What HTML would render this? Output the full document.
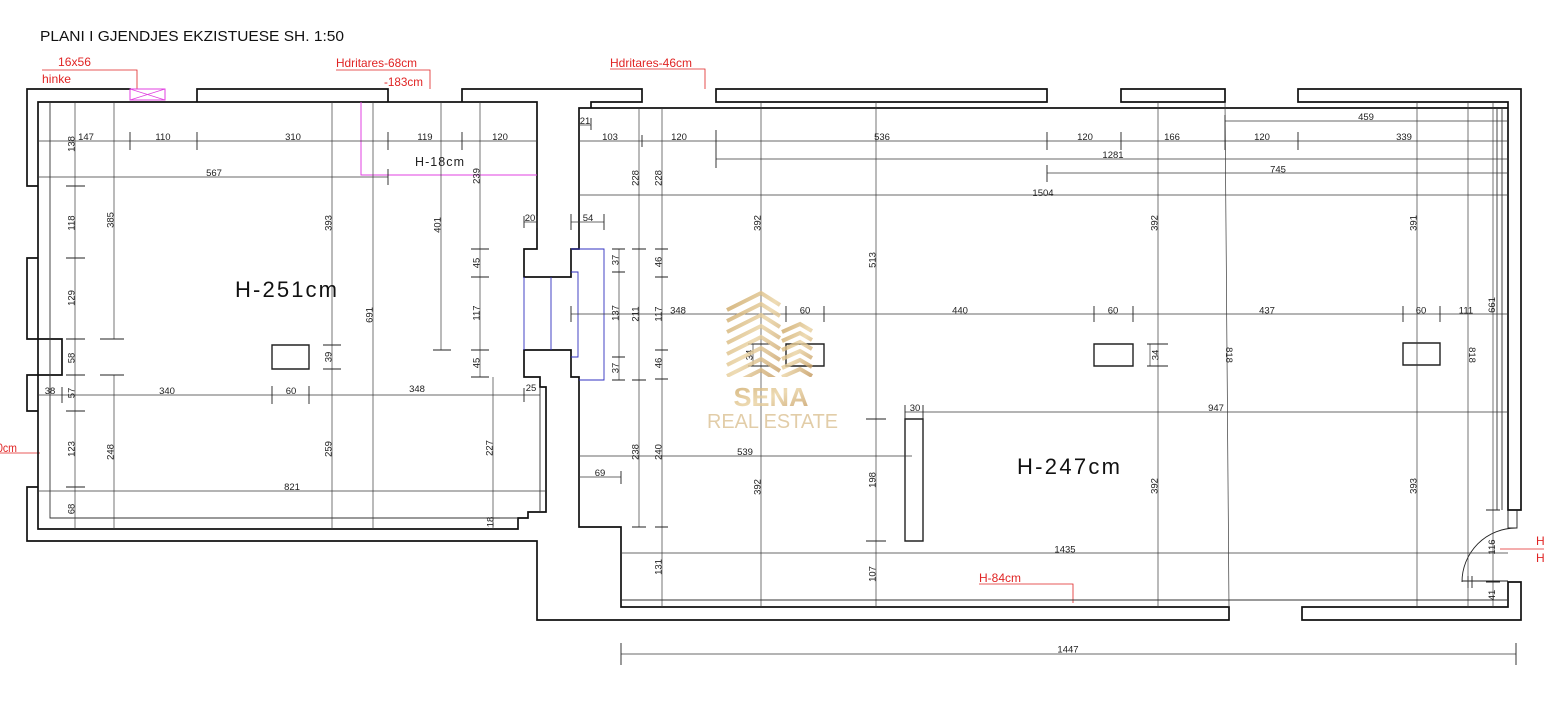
<!DOCTYPE html>
<html><head><meta charset="utf-8"><style>
html,body{margin:0;padding:0;background:#fff;}
svg{display:block}
.w{stroke:#111;stroke-width:1.7;fill:none;stroke-linecap:square}
.f{stroke:#333;stroke-width:0.9;fill:none}
.d{stroke:#3a3a3a;stroke-width:0.7;fill:none}
.k{stroke:#222;stroke-width:0.9;fill:none}
text{font-family:"Liberation Sans",Arial,sans-serif}
.t{font-size:9.5px;fill:#222;text-anchor:middle}
.r{font-size:12px;fill:#e02424}
</style></head><body>
<svg width="1544" height="720" viewBox="0 0 1544 720" xmlns="http://www.w3.org/2000/svg">
<defs>
<linearGradient id="g" x1="0" y1="0" x2="1" y2="1">
<stop offset="0" stop-color="#c9a15c"/><stop offset="0.5" stop-color="#ead3a2"/><stop offset="1" stop-color="#c2965a"/>
</linearGradient>
<clipPath id="cl"><rect x="720" y="288" width="100" height="89"/></clipPath>
</defs>
<rect width="1544" height="720" fill="#fff"/>

<text x="40" y="41" font-size="14.5" fill="#111" textLength="304" lengthAdjust="spacingAndGlyphs">PLANI I GJENDJES EKZISTUESE SH. 1:50</text>

<!-- red annotations -->
<g stroke="#e02424" stroke-width="0.8" fill="none">
<path d="M42,70 H137 V89"/><path d="M336,70 H430 V89"/><path d="M610,69 H705 V89"/>
<path d="M979,584 H1073 V603"/><path d="M0,453 H40"/><path d="M1500,549 H1544"/>
</g>
<text class="r" x="58" y="66" textLength="33" lengthAdjust="spacingAndGlyphs">16x56</text>
<text class="r" x="42" y="83" textLength="29" lengthAdjust="spacingAndGlyphs">hinke</text>
<text class="r" x="336" y="67" textLength="81" lengthAdjust="spacingAndGlyphs">Hdritares-68cm</text>
<text class="r" x="384" y="86" textLength="39" lengthAdjust="spacingAndGlyphs">-183cm</text>
<text class="r" x="610" y="67" textLength="82" lengthAdjust="spacingAndGlyphs">Hdritares-46cm</text>
<text class="r" x="979" y="582" textLength="42" lengthAdjust="spacingAndGlyphs">H-84cm</text>
<text class="r" x="-3" y="452" textLength="20" lengthAdjust="spacingAndGlyphs">0cm</text>
<text class="r" x="1536" y="545">H</text>
<text class="r" x="1536" y="562">H</text>

<!-- walls -->
<path class="w" d="
M27,89 H130
M197,102 V89 H388 V102
M462,102 V89 H642 V102
M716,102 V89 H1047 V102
M1121,102 V89 H1225 V102
M1298,102 V89 H1521 V510 H1508
M38,102 H537 V249 H524 V277 H571 V249 H579 V108 H591 V102 H642
M716,102 H1047 M1121,102 H1225 M1298,102 H1508 V510
M579,108 H1508
M27,89 V186 H38
M38,258 H27 V339
M27,339 H62 V375 H27 V411 H38
M38,487 H27 V541 H537 V620 H1229 V607
M1302,607 V620 H1521 V582 H1508 V607
M621,607 H1229 M1302,607 H1508
M38,102 V529 H518 V518 H528 V512 H546 V387 H540 V377 H524 V350 H571 V377 H579 V527 H621 V607
"/>
<path class="f" d="M50,102 V518 H518 M540,387 V512 M1497,108 V510 M1502,108 V510 M621,600 H1508"/>
<!-- door -->
<path class="k" d="M1508,510 V528 H1517 V510 M1516,528 A54,54 0 0 0 1462,582 M1462,581 H1508 M1468,576 V588 M1472,576 V588"/>
<!-- magenta -->
<rect x="130" y="89" width="35" height="11" stroke="#e040e0" fill="none" stroke-width="1"/>
<path d="M130,89 L165,100 M130,100 L165,89" stroke="#e040e0" stroke-width="0.8"/>
<path d="M361,102 V175 H537" stroke="#e040e0" stroke-width="1" fill="none"/>
<!-- blue stair -->
<path d="M524,277 V350 M551,277 V350 M571,249 H604 V380 H579 M571,272 H578 V357 H571" stroke="#3030c0" stroke-width="0.9" fill="none"/>
<!-- rects -->
<path stroke="#222" stroke-width="1.4" fill="none" d="M272,345 h37 v24 h-37 z M786,344 h38 v22 h-38 z M1094,344 h39 v22 h-39 z M1403,343 h37 v22 h-37 z M905,419 h18 v122 h-18 z"/>

<!-- dimension lines -->
<path class="d" d="
M38,141 H537 M38,177 H388 M38,395 H540 M38,491 H546
M75,102 V529 M114,102 V339 M114,375 V529 M332,102 V529 M373,102 V529
M441,102 V350 M480,102 V377 M493,377 V529 M524,222 H537
M579,125 H591 M1225,121 H1508 M579,141 H1508 M716,159 H1508 M1047,173 H1508 M579,195 H1508
M571,222 H604 M571,314 H1508 M905,412 H1508 M579,456 H912 M579,477 H621 M621,553 H1508 M621,654 H1516
M619,249 V380 M639,108 V527 M662,108 V607 M761,102 V607 M876,102 V607 M1158,102 V607
M1225,102 L1229,607 M1417,102 V607 M1468,102 V607 M1493,102 V607
M753,344 V366 M1150,344 V366
"/>
<!-- ticks -->
<path class="k" d="
M130,132 V150 M197,132 V150 M388,132 V150 M462,132 V150 M388,169 V185
M62,387 V403 M272,386 V404 M309,386 V404 M524,388 V402
M524,216 V228 M537,216 V228 M571,214 V230 M604,214 V230 M591,118 V130
M642,135 V147 M716,130 V168 M1047,132 V150 M1121,132 V150 M1225,115 V150 M1298,132 V150 M1047,165 V182
M571,306 V322 M786,306 V322 M824,306 V322 M1094,306 V322 M1133,306 V322 M1403,306 V322 M1440,306 V322
M905,405 V419 M923,405 V419 M621,471 V484 M621,643 V665 M1516,643 V665
M66,186 H85 M66,258 H85 M66,339 H85 M66,375 H85 M66,411 H85 M66,487 H85
M100,339 H124 M100,375 H124 M323,345 H341 M323,369 H341 M433,350 H451
M471,249 H489 M471,277 H489 M471,350 H489 M471,377 H489 M486,518 H500
M612,249 H625 M612,272 H625 M612,357 H625 M612,380 H625
M632,249 H646 M632,380 H646 M632,527 H646
M655,249 H668 M655,277 H668 M655,350 H668 M655,379 H668 M655,527 H668
M748,344 H770 M748,366 H770 M866,419 H886 M866,541 H886 M1147,344 H1168 M1147,366 H1168
M1486,510 H1500 M1486,582 H1500
"/>

<!-- horizontal labels -->
<g class="t">
<text x="86" y="140">147</text><text x="163" y="140">110</text><text x="293" y="140">310</text><text x="425" y="140">119</text><text x="500" y="140">120</text>
<text x="214" y="176">567</text>
<text x="50" y="394">38</text><text x="167" y="394">340</text><text x="291" y="394">60</text><text x="417" y="392">348</text><text x="531" y="391">25</text>
<text x="292" y="490">821</text><text x="530" y="221">20</text>
<text x="585" y="124">21</text>
<text x="610" y="140">103</text><text x="679" y="140">120</text><text x="882" y="140">536</text><text x="1085" y="140">120</text><text x="1172" y="140">166</text><text x="1262" y="140">120</text><text x="1404" y="140">339</text>
<text x="1366" y="120">459</text><text x="1113" y="158">1281</text><text x="1278" y="172.5">745</text><text x="1043" y="196">1504</text>
<text x="588" y="221">54</text>
<text x="678" y="313.5">348</text><text x="805" y="313.5">60</text><text x="960" y="313.5">440</text><text x="1113" y="313.5">60</text><text x="1267" y="313.5">437</text><text x="1421" y="313.5">60</text><text x="1466" y="313.5">111</text>
<text x="915" y="411">30</text><text x="1216" y="411">947</text>
<text x="745" y="455">539</text><text x="600" y="476">69</text>
<text x="1065" y="552.5">1435</text><text x="1068" y="652.5">1447</text>
</g>
<!-- vertical labels -->
<g class="t">
<text transform="translate(74.5,144) rotate(-90)">138</text>
<text transform="translate(74.5,223) rotate(-90)">118</text>
<text transform="translate(74.5,298) rotate(-90)">129</text>
<text transform="translate(74.5,358) rotate(-90)">58</text>
<text transform="translate(74.5,393) rotate(-90)">57</text>
<text transform="translate(74.5,449) rotate(-90)">123</text>
<text transform="translate(74.5,509) rotate(-90)">68</text>
<text transform="translate(113.5,220) rotate(-90)">385</text>
<text transform="translate(113.5,452) rotate(-90)">248</text>
<text transform="translate(331.5,223) rotate(-90)">393</text>
<text transform="translate(331.5,357) rotate(-90)">39</text>
<text transform="translate(331.5,449) rotate(-90)">259</text>
<text transform="translate(372.5,315) rotate(-90)">691</text>
<text transform="translate(440.5,225) rotate(-90)">401</text>
<text transform="translate(479.5,176) rotate(-90)">239</text>
<text transform="translate(479.5,263) rotate(-90)">45</text>
<text transform="translate(479.5,313) rotate(-90)">117</text>
<text transform="translate(479.5,363) rotate(-90)">45</text>
<text transform="translate(492.5,448) rotate(-90)">227</text>
<text transform="translate(493.5,522) rotate(-90)">18</text>
<text transform="translate(618.5,260) rotate(-90)">37</text>
<text transform="translate(618.5,313) rotate(-90)">137</text>
<text transform="translate(618.5,368) rotate(-90)">37</text>
<text transform="translate(638.5,178) rotate(-90)">228</text>
<text transform="translate(638.5,314) rotate(-90)">211</text>
<text transform="translate(638.5,452) rotate(-90)">238</text>
<text transform="translate(661.5,178) rotate(-90)">228</text>
<text transform="translate(661.5,262) rotate(-90)">46</text>
<text transform="translate(661.5,314) rotate(-90)">117</text>
<text transform="translate(661.5,363) rotate(-90)">46</text>
<text transform="translate(661.5,452) rotate(-90)">240</text>
<text transform="translate(661.5,567) rotate(-90)">131</text>
<text transform="translate(760.5,223) rotate(-90)">392</text>
<text transform="translate(752.5,355) rotate(-90)">34</text>
<text transform="translate(760.5,487) rotate(-90)">392</text>
<text transform="translate(875.5,260) rotate(-90)">513</text>
<text transform="translate(875.5,480) rotate(-90)">198</text>
<text transform="translate(875.5,574) rotate(-90)">107</text>
<text transform="translate(1157.5,223) rotate(-90)">392</text>
<text transform="translate(1158.5,355) rotate(-90)">34</text>
<text transform="translate(1157.5,486) rotate(-90)">392</text>
<text transform="translate(1416.5,223) rotate(-90)">391</text>
<text transform="translate(1416.5,486) rotate(-90)">393</text>
<text transform="translate(1495,305) rotate(-90)">661</text>
<text transform="translate(1495,547) rotate(-90)">116</text>
<text transform="translate(1495,595) rotate(-90)">41</text>
<text transform="translate(1226,355) rotate(90)">818</text>
<text transform="translate(1469,355) rotate(90)">818</text>
</g>

<!-- room heights -->
<text x="235" y="297" font-size="22" fill="#111" textLength="102" lengthAdjust="spacing">H-251cm</text>
<text x="1017" y="474" font-size="22" fill="#111" textLength="103" lengthAdjust="spacing">H-247cm</text>
<text x="415" y="166" font-size="12.5" fill="#222" textLength="49" lengthAdjust="spacing">H-18cm</text>

<!-- watermark -->
<g opacity="0.8">
<g clip-path="url(#cl)" stroke="url(#g)" stroke-width="4" fill="none">
<path d="M727,310 L761,293 L780,305 M727,321 L761,304 L780,316 M727,332 L761,315 L780,327 M727,343 L761,326 L780,338 M727,354 L761,337 L780,349 M727,365 L761,348 L780,360 M727,376 L761,359 L780,371 M727,387 L761,370 L780,382"/>
<path d="M782,332 L800,324 L812,331 M782,341 L800,333 L812,340 M782,350 L800,342 L812,349 M782,359 L800,351 L812,358 M782,368 L800,360 L812,367 M782,377 L800,369 L812,376"/>
</g>
<text x="771" y="406" font-size="26" font-weight="bold" fill="url(#g)" text-anchor="middle" textLength="75" lengthAdjust="spacingAndGlyphs">SENA</text>
<text x="707" y="428" font-size="20" fill="#dcc193" textLength="131" lengthAdjust="spacingAndGlyphs">REAL ESTATE</text>
</g>
</svg>
</body></html>
